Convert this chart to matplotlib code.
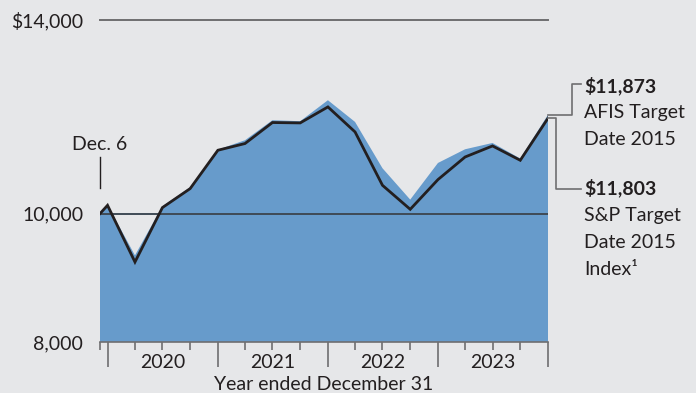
"""
Growth of $10,000: AFIS Target Date 2015 vs S&P Target Date 2015 Index.
Blue area = fund, black line = index, log-scaled value axis.
"""

from datetime import date

import matplotlib
matplotlib.use("Agg")

import matplotlib.dates as mdates
import matplotlib.pyplot as plt
from matplotlib.lines import Line2D
from matplotlib.ticker import FixedLocator, NullFormatter

BG = "#E6E7E9"
FUND_COLOUR = "#679BCB"
INDEX_COLOUR = "#231F20"
GRID_COLOUR = "#6E6E70"
TEXT_COLOUR = "#231F20"

plt.rcParams["font.family"] = ["Lato", "DejaVu Sans"]
plt.rcParams["font.size"] = 14

# ── Data ────────────────────────────────────────────────────────────────
dates = [
    date(2019, 12, 6), date(2019, 12, 31),
    date(2020, 3, 31), date(2020, 6, 30), date(2020, 9, 30), date(2020, 12, 31),
    date(2021, 3, 31), date(2021, 6, 30), date(2021, 9, 30), date(2021, 12, 31),
    date(2022, 3, 31), date(2022, 6, 30), date(2022, 9, 30), date(2022, 12, 31),
    date(2023, 3, 31), date(2023, 6, 30), date(2023, 9, 30), date(2023, 12, 31),
]
fund_values = [
    10000, 10150, 9300, 10128, 10468, 11175, 11360, 11762, 11742,
    12178, 11727, 10820, 10246, 10920, 11183, 11306, 11004, 11873,
]
index_values = [
    10000, 10145, 9193, 10105, 10444, 11164, 11295, 11715, 11707,
    12037, 11525, 10504, 10075, 10609, 11034, 11248, 10971, 11803,
]
years = [2020, 2021, 2022, 2023]
ytick_values = [8000, 10000, 14000]
ytick_labels = ["8,000", "10,000", "$14,000"]
fund_label = ["$11,873", "AFIS Target", "Date 2015"]
index_label = ["$11,803", "S&P Target", "Date 2015", "Index\u00b9"]

W, H, DPI = 696, 393, 100
fig = plt.figure(figsize=(W / DPI, H / DPI), dpi=DPI, facecolor=BG)
ax = fig.add_axes([100 / W, (H - 342) / H, 448 / W, 322 / H], facecolor=BG)

x = mdates.date2num(dates)

ax.set_yscale("log")
ax.set_ylim(8000, 14000)
ax.set_xlim(x[0], x[-1])

ax.fill_between(x, fund_values, 1, color=FUND_COLOUR, lw=0, zorder=2)
ax.axhline(10000, color="#3F4A55", lw=1.4, zorder=3)
ax.axhline(14000, color=GRID_COLOUR, lw=1.4, zorder=3, clip_on=False)
ax.plot(x, index_values, color=INDEX_COLOUR, lw=2.0, zorder=4,
        solid_joinstyle="miter")

# ── Axes cosmetics ──────────────────────────────────────────────────────
for side in ("top", "right", "left"):
    ax.spines[side].set_visible(False)
ax.spines["bottom"].set_color(GRID_COLOUR)
ax.spines["bottom"].set_linewidth(1.2)
ax.spines["bottom"].set_zorder(5)

ax.yaxis.set_major_locator(FixedLocator(ytick_values))
ax.yaxis.set_minor_locator(FixedLocator([]))
ax.set_yticklabels(ytick_labels)
ax.tick_params(axis="y", length=0, pad=12, labelcolor=TEXT_COLOUR, labelsize=14)

year_ends = [mdates.date2num(date(y - 1, 12, 31)) for y in years] + \
            [mdates.date2num(date(years[-1], 12, 31))]
quarter_ticks = [x[0]] + [xi for xi in x[2:] if xi not in year_ends]
ax.xaxis.set_major_locator(FixedLocator(year_ends))
ax.xaxis.set_major_formatter(NullFormatter())
ax.xaxis.set_minor_locator(FixedLocator(quarter_ticks))
ax.xaxis.set_minor_formatter(NullFormatter())
ax.tick_params(axis="x", which="major", length=18, width=1.2, color=GRID_COLOUR)
ax.tick_params(axis="x", which="minor", length=6, width=1.2, color=GRID_COLOUR)

for y in years:
    mid = (mdates.date2num(date(y - 1, 12, 31)) + mdates.date2num(date(y, 12, 31))) / 2
    ax.annotate(str(y), xy=(mid, 0), xycoords=("data", "axes fraction"),
                xytext=(0, -15), textcoords="offset points",
                ha="center", va="center", fontsize=14, color=TEXT_COLOUR)

ax.set_xlabel("Year ended December 31", fontsize=14, color=TEXT_COLOUR, va="center")
ax.xaxis.set_label_coords(0.5, -43 / 322)

# ── Start marker ────────────────────────────────────────────────────────
ax.annotate("Dec. 6", xy=(x[0], index_values[0]), xytext=(0, 50),
            textcoords="offset points", ha="center", va="center",
            fontsize=14, color=TEXT_COLOUR, annotation_clip=False)
ax.plot([x[0], x[0]], [10000 * 1.045, 10000 * 1.103], color=INDEX_COLOUR,
        lw=1.0, clip_on=False)

# ── End-value callouts (pixel offsets from the last data point) ─────────
fig.canvas.draw()
px_f = ax.transData.transform((x[-1], fund_values[-1]))
px_i = ax.transData.transform((x[-1], index_values[-1]))
text_x = px_f[0] + 36


def callout(points, lines, top_y):
    xs, ys = zip(*points)
    fig.add_artist(Line2D(xs, ys, transform=None, color=GRID_COLOUR, lw=1.2))
    for k, s in enumerate(lines):
        fig.text(text_x / W, (top_y - k * 27) / H, s, ha="left", va="center",
                 fontsize=14, color=TEXT_COLOUR,
                 fontweight="bold" if k == 0 else "normal")


callout([(px_f[0], px_f[1]), (px_f[0] + 24, px_f[1]),
         (px_f[0] + 24, px_f[1] + 31), (px_f[0] + 33, px_f[1] + 31)],
        fund_label, px_f[1] + 29)
callout([(px_i[0], px_i[1]), (px_i[0] + 8, px_i[1]),
         (px_i[0] + 8, px_i[1] - 71), (px_i[0] + 33, px_i[1] - 71)],
        index_label, px_i[1] - 70)

fig.savefig("out.png", dpi=DPI, facecolor=BG)
